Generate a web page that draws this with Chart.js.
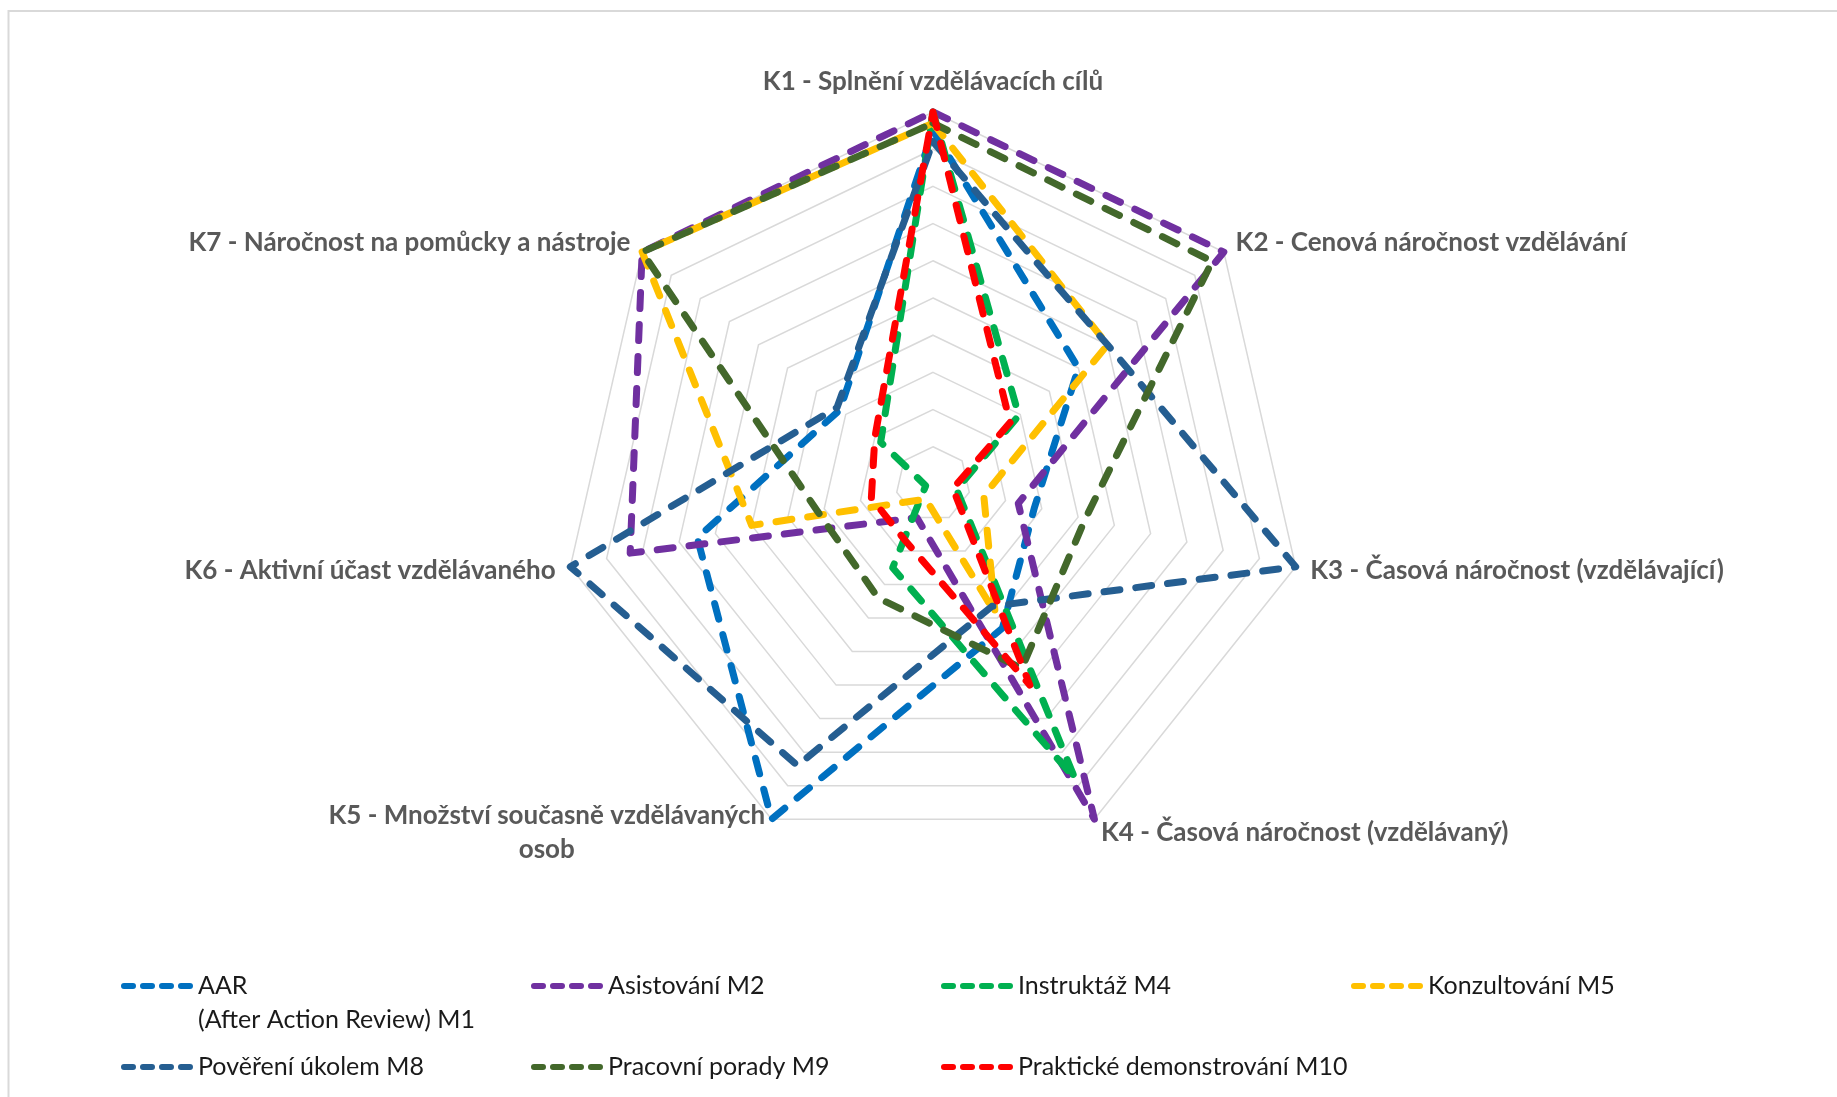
<!DOCTYPE html>
<html>
<head>
<meta charset="utf-8">
<script src="https://cdn.jsdelivr.net/npm/chart.js@4.4.1/dist/chart.umd.min.js"></script>
<style>
  html, body { margin: 0; padding: 0; background: #ffffff; overflow: hidden; }
  canvas { display: block; }
</style>
</head>
<body>
<canvas id="radar" width="1837" height="1097"></canvas>
<script>
// Criteria (axes of the radar)
const categories = [
  'K1 - Splnění vzdělávacích cílů',
  'K2 - Cenová náročnost vzdělávání',
  'K3 - Časová náročnost (vzdělávající)',
  'K4 - Časová náročnost (vzdělávaný)',
  ['K5 - Množství současně vzdělávaných', 'osob'],
  'K6 - Aktivní účast vzdělávaného',
  'K7 - Náročnost na pomůcky a nástroje'
];

// Methods (series)
const seriesNames = [
  ['AAR', '(After Action Review) M1'],
  'Asistování M2',
  'Instruktáž M4',
  'Konzultování M5',
  'Pověření úkolem M8',
  'Pracovní porady M9',
  'Praktické demonstrování M10'
];

// Scores per criterion K1..K7
const aarM1            = [9.5, 5.0, 2.8, 4.3, 10.0, 6.5, 3.2];
const asistovaniM2     = [10.0, 10.0, 2.35, 10.0, 1.0, 8.35, 10.0];
const instruktazM4     = [10.0, 2.95, 0.65, 8.8, 2.5, 0.2, 1.8];
const konzultovaniM5   = [9.7, 6.0, 1.4, 3.85, 0.45, 5.0, 10.0];
const povereniM8       = [9.2, 6.0, 10.0, 3.65, 8.4, 10.0, 3.3];
const poradyM9         = [9.7, 9.6, 4.2, 5.5, 3.4, 3.2, 10.0];
const demonstrovaniM10 = [10.0, 2.65, 0.55, 6.0, 1.7, 1.7, 2.0];

// Value axis: 0..10, one ring per unit
const scaleMin = 0;
const scaleMax = 10;
const scaleStep = 1;

const seriesValues = [aarM1, asistovaniM2, instruktazM4, konzultovaniM5, povereniM8, poradyM9, demonstrovaniM10];
const seriesColors = ['#0070C0', '#7030A0', '#00B050', '#FFC000', '#255E91', '#43682B', '#FF0000'];

const LABEL_FONT = 'bold 26px Lato';
const LEGEND_FONT = '25px Lato';

// Thin outer frame of the chart object
const framePlugin = {
  id: 'frame',
  beforeDraw(chart) {
    const ctx = chart.ctx;
    ctx.save();
    ctx.strokeStyle = '#d9d9d9';
    ctx.lineWidth = 2;
    ctx.beginPath();
    ctx.moveTo(8.5, chart.height);
    ctx.lineTo(8.5, 11);
    ctx.lineTo(chart.width, 11);
    ctx.stroke();
    ctx.restore();
  }
};

// Category labels placed just outside each spoke's end
const axisLabelPlugin = {
  id: 'axisLabels',
  afterDraw(chart) {
    const scale = chart.scales.r;
    const ctx = chart.ctx;
    const labels = chart.data.labels;
    const lineH = 34;
    ctx.save();
    ctx.font = LABEL_FONT;
    ctx.fillStyle = '#595959';
    ctx.textBaseline = 'middle';
    ctx.textAlign = 'center';
    labels.forEach((lab, i) => {
      const lines = Array.isArray(lab) ? lab : [lab];
      const p = scale.getPointPosition(i, scale.drawingArea + 15);
      const angle = scale.getIndexAngle(i);
      const sx = Math.sin(angle);
      const sy = -Math.cos(angle);
      const blockW = Math.max(...lines.map(l => ctx.measureText(l).width));
      const blockH = lines.length * lineH;
      let cx, cy;
      if (Math.abs(sx) < 0.05) {
        // top / bottom: centred, pushed outward
        cx = p.x;
        cy = sy < 0 ? p.y - blockH / 2 + 2 : p.y + blockH / 2;
      } else {
        // sides: aligned away from the spoke, vertically centred on it
        cx = sx > 0 ? p.x + blockW / 2 : p.x - blockW / 2;
        cy = p.y;
      }
      lines.forEach((l, k) => {
        const y = cy - blockH / 2 + lineH / 2 + k * lineH;
        ctx.fillText(l, cx, y);
      });
    });
    ctx.restore();
  }
};

// Legend laid out in a four-column grid under the plot
const gridLegendPlugin = {
  id: 'gridLegend',
  afterDraw(chart) {
    const ctx = chart.ctx;
    const cols = 4;
    const x0 = 121, colW = 410;
    const y0 = 986, rowH = 81, lineH = 34;
    const sampleW = 72;
    ctx.save();
    ctx.font = LEGEND_FONT;
    ctx.textBaseline = 'middle';
    ctx.textAlign = 'left';
    chart.data.datasets.forEach((ds, i) => {
      const col = i % cols, row = Math.floor(i / cols);
      const x = x0 + col * colW;
      const y = y0 + row * rowH;
      ctx.strokeStyle = ds.borderColor;
      ctx.lineWidth = 6;
      ctx.lineCap = 'round';
      ctx.setLineDash([9, 10]);
      ctx.beginPath();
      ctx.moveTo(x + 3, y);
      ctx.lineTo(x + sampleW - 3, y);
      ctx.stroke();
      ctx.setLineDash([]);
      ctx.fillStyle = '#1a1a1a';
      const lines = Array.isArray(ds.label) ? ds.label : [ds.label];
      lines.forEach((l, k) => ctx.fillText(l, x + sampleW + 5, y + k * lineH));
    });
    ctx.restore();
  }
};

const datasets = seriesValues.map((vals, i) => ({
  label: seriesNames[i],
  data: vals,
  borderColor: seriesColors[i],
  backgroundColor: 'transparent',
  borderWidth: 7,
  borderDash: [16, 16],
  borderCapStyle: 'round',
  borderJoinStyle: 'round',
  pointRadius: 0,
  pointHoverRadius: 0,
  fill: false,
  tension: 0,
  order: seriesValues.length - i
}));

new Chart(document.getElementById('radar'), {
  type: 'radar',
  data: { labels: categories, datasets },
  options: {
    responsive: false,
    animation: false,
    devicePixelRatio: 1,
    layout: { padding: { left: 561, right: 532, top: 112, bottom: 241 } },
    plugins: {
      legend: { display: false },
      tooltip: { enabled: false }
    },
    scales: {
      r: {
        min: scaleMin,
        max: scaleMax,
        ticks: { display: false, stepSize: scaleStep },
        grid: { color: '#d9d9d9', lineWidth: 1.5, circular: false },
        angleLines: { display: false },
        pointLabels: { display: false }
      }
    }
  },
  plugins: [framePlugin, axisLabelPlugin, gridLegendPlugin]
});
</script>
</body>
</html>
